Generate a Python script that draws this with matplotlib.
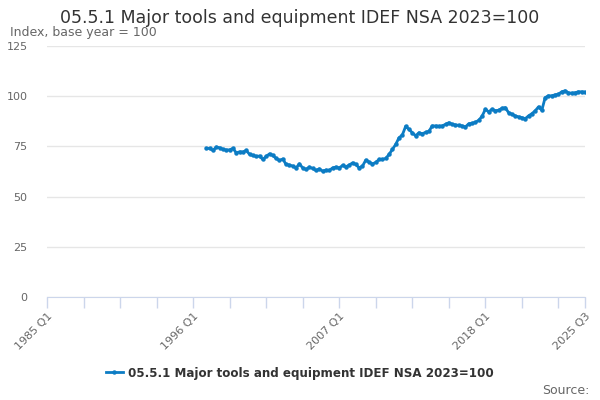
import matplotlib
matplotlib.use("Agg")
import matplotlib.pyplot as plt
from matplotlib.lines import Line2D

# quarters counted from 1985 Q1; series begins 1997 Q1 (index 48)
first_q = 48
values = [
    74, 74, 73, 74.7, 74.3, 73.5, 73.2, 73.3, 74, 71.8, 72.3, 72.2,
    73, 71, 70.5, 70, 70.2, 68.5, 70, 71.3, 70.5, 69, 68, 68.7,
    66, 65.7, 65.2, 64.3, 66.3, 64.3, 63.5, 64.7, 64, 63, 63.8, 62.7,
    63.2, 63, 64.3, 64.7, 64.3, 65.5, 64.8, 65.7, 66.8, 66, 64.3, 65.2,
    68.2, 67.2, 66.3, 67, 68.5, 68.5, 69, 71, 73.5, 76, 79.3, 80.7,
    85, 83.5, 81.8, 80.3, 81.8, 81.3, 82, 82.5, 85.2, 85.2, 85, 85.2,
    86, 86.8, 86, 85.7, 85.5, 85.2, 84.7, 86.3, 86.5, 87, 88, 90,
    93.5, 92.2, 93.5, 92.8, 93, 94, 94.3, 91.8, 91, 90.2, 89.7, 89.3,
    88.8, 90.2, 91.3, 92.7, 94.7, 93, 99.3, 100.2, 100.2, 100.7, 101, 102.2,
    102.7, 101.7, 101.5, 101.7, 102.2, 102.2, 102,
]
tick_pos = [0, 11, 22, 33, 44, 55, 66, 77, 88, 99, 110, 121, 132, 143, 154, 162]
tick_labels = {0: "1985 Q1", 44: "1996 Q1", 88: "2007 Q1", 132: "2018 Q1", 162: "2025 Q3"}
y_ticks = [0, 25, 50, 75, 100, 125]

title = "05.5.1 Major tools and equipment IDEF NSA 2023=100"
blue = "#0c7cc4"
grey = "#666666"
axis_col = "#ccd6eb"

x = list(range(first_q, first_q + len(values)))

fig = plt.figure(figsize=(6, 4), dpi=100)
ax = fig.add_axes([47 / 600, 103 / 400, 538 / 600, 251 / 400])

ax.plot(x, values, color=blue, lw=2, marker="o", ms=2.2, zorder=3)

ax.set_xlim(0, 162)
ax.set_ylim(0, 125)
ax.set_yticks(y_ticks)
ax.set_yticklabels([str(v) for v in y_ticks], color=grey, fontsize=8)
ax.grid(axis="y", color="#e6e6e6", lw=1)
ax.set_axisbelow(True)
ax.tick_params(axis="y", length=0, pad=14)

ax.set_xticks(tick_pos)
ax.set_xticklabels([tick_labels.get(p, "") for p in tick_pos],
                   rotation=45, ha="right", rotation_mode="anchor",
                   color=grey, fontsize=8)
ax.tick_params(axis="x", length=8, color=axis_col, width=1, pad=2)

for s in ["top", "right", "left"]:
    ax.spines[s].set_visible(False)
ax.spines["bottom"].set_color(axis_col)

fig.text(0.5, 0.955, title, ha="center", va="center", fontsize=12.5, color="#333333")
fig.text(10 / 600, 0.918, "Index, base year = 100", ha="left", va="center",
         fontsize=9, color=grey)

handle = Line2D([], [], color=blue, lw=2, marker="o", ms=2.2)
fig.legend([handle], [title], loc="center", bbox_to_anchor=(0.5, 27 / 400),
           frameon=False, prop={"weight": "bold", "size": 8.6}, labelcolor="#333333",
           handlelength=1.4, handletextpad=0.5)
fig.text(0.983, 0.025, "Source:", ha="right", va="center", fontsize=9, color=grey)

fig.savefig("out.png", dpi=100)
